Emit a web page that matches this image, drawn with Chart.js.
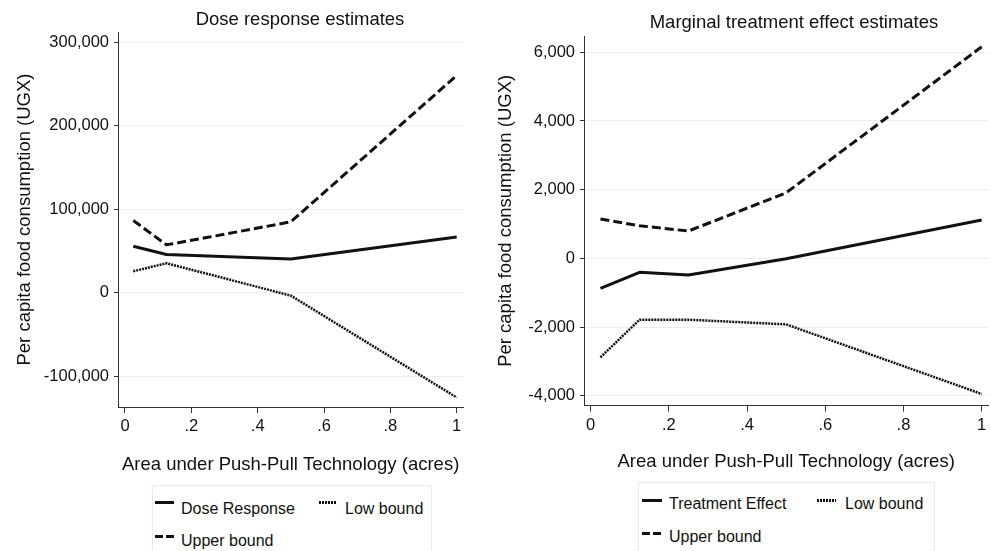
<!DOCTYPE html>
<html>
<head>
<meta charset="utf-8">
<script src="https://cdn.jsdelivr.net/npm/chart.js@4.4.0/dist/chart.umd.min.js"></script>
<style>
body { margin:0; width:991px; height:551px; overflow:hidden; background:#fff; font-family:"Liberation Sans", Arial, sans-serif; color:#111; position:relative; }
canvas { position:absolute; top:0; }
.title { position:absolute; font-size:18.5px; line-height:22px; text-align:center; white-space:nowrap; }
.legend { position:absolute; border:1px solid #e4ebed; height:120px; box-sizing:border-box; }
.item { position:absolute; font-size:16px; line-height:20px; white-space:nowrap; }
.swatch { position:absolute; height:3px; }
.solid { background:#111; }
.dash { background:repeating-linear-gradient(90deg, #111 0 8px, transparent 8px 11px); }
.dot { background:repeating-linear-gradient(90deg, #111 0 2px, transparent 2px 3px); }
</style>
</head>
<body>
<canvas id="doseChart" width="495" height="480" style="left:0"></canvas>
<canvas id="mteChart" width="496" height="480" style="left:495px"></canvas>

<div class="title" style="left:150px; top:8px; width:300px">Dose response estimates</div>
<div class="title" style="left:594px; top:11px; width:400px">Marginal treatment effect estimates</div>

<div class="legend" style="left:152px; top:485px; width:280px"></div>
<div class="swatch solid" style="left:155px; top:501px; width:19px"></div>
<div class="item" id="doseLeg0" style="left:181px; top:499px"></div>
<div class="swatch dot" style="left:319px; top:501px; width:18px"></div>
<div class="item" id="doseLeg1" style="left:345px; top:499px"></div>
<div class="swatch dash" style="left:155px; top:535px; width:19px"></div>
<div class="item" id="doseLeg2" style="left:181px; top:531px"></div>

<div class="legend" style="left:638px; top:482px; width:297px"></div>
<div class="swatch solid" style="left:642px; top:499px; width:20px"></div>
<div class="item" id="mteLeg0" style="left:669px; top:494px"></div>
<div class="swatch dot" style="left:817px; top:499px; width:19px"></div>
<div class="item" id="mteLeg1" style="left:845px; top:494px"></div>
<div class="swatch dash" style="left:642px; top:532px; width:20px"></div>
<div class="item" id="mteLeg2" style="left:669px; top:527px"></div>

<script>
// evaluation points (acres)
const acres = [0.025, 0.125, 0.25, 0.5, 1];

// dose response (UGX)
const doseResponse = [55800, 45900, 44200, 40700, 67000];
const doseLow = [25900, 35500, 22600, -3200, -125000];
const doseUpper = [86600, 57500, 66500, 85000, 260000];

// marginal treatment effect (UGX)
const treatEffect = [-873, -408, -486, -10, 1115];
const treatLow = [-2882, -1787, -1787, -1922, -3950];
const treatUpper = [1144, 950, 795, 1910, 6160];

const xTicks = [0, 0.2, 0.4, 0.6, 0.8, 1];
const doseYTicks = [-100000, 0, 100000, 200000, 300000];
const mteYTicks = [-4000, -2000, 0, 2000, 4000, 6000];

const doseLegend = ['Dose Response', 'Low bound', 'Upper bound'];
const mteLegend = ['Treatment Effect', 'Low bound', 'Upper bound'];

const xTitle = 'Area under Push-Pull Technology (acres)';
const yTitle = 'Per capita food consumption (UGX)';

doseLegend.forEach((t, i) => document.getElementById('doseLeg' + i).textContent = t);
mteLegend.forEach((t, i) => document.getElementById('mteLeg' + i).textContent = t);

Chart.defaults.font.family = '"Liberation Sans", Arial, sans-serif';
Chart.defaults.color = '#111';

const ink = '#111';
const axisGray = '#333';

function pts(ys) {
    return acres.map((x, i) => ({x: x, y: ys[i]}));
}

function makeChart(id, o) {
    return new Chart(document.getElementById(id), {
        type: 'line',
        data: {
            datasets: [
                {label: o.labels[0], data: pts(o.mid), borderColor: ink, borderWidth: 3},
                {label: o.labels[1], data: pts(o.low), borderColor: ink, borderWidth: 2.5, borderDash: [2, 1]},
                {label: o.labels[2], data: pts(o.up), borderColor: ink, borderWidth: 3, borderDash: [9, 4]}
            ]
        },
        options: {
            responsive: false,
            devicePixelRatio: 1,
            animation: false,
            elements: {point: {radius: 0}, line: {tension: 0, borderCapStyle: 'butt', borderJoinStyle: 'round'}},
            layout: {padding: o.pad},
            plugins: {legend: {display: false}, tooltip: {enabled: false}, title: {display: false}},
            scales: {
                x: {
                    type: 'linear',
                    min: o.xmin, max: o.xmax,
                    afterBuildTicks: s => { s.ticks = xTicks.map(v => ({value: v})); },
                    afterFit: s => { s.height = o.xh; },
                    ticks: {
                        font: {size: 16.5}, color: ink, padding: 4, maxRotation: 0,
                        callback: v => v === 0 ? '0' : v === 1 ? '1' : String(v).replace(/^0/, '')
                    },
                    grid: {drawOnChartArea: false, tickLength: 6, tickColor: axisGray},
                    border: {color: axisGray, width: 1},
                    title: {display: true, text: xTitle, font: {size: 18.5}, color: ink, padding: {top: 0, bottom: o.xtb}}
                },
                y: {
                    min: o.ymin, max: o.ymax,
                    afterBuildTicks: s => { s.ticks = o.yticks.map(v => ({value: v})); },
                    afterFit: s => { s.width = o.yw; },
                    ticks: {font: {size: 16.5}, color: ink, padding: 5, callback: v => v.toLocaleString('en-US')},
                    grid: {color: '#e6eff1', tickLength: 4, tickColor: axisGray},
                    border: {color: axisGray, width: 1},
                    title: {display: true, text: yTitle, font: {size: 18.5}, color: ink, padding: {top: o.ytt, bottom: 0}}
                }
            }
        }
    });
}

makeChart('doseChart', {
    labels: doseLegend, mid: doseResponse, low: doseLow, up: doseUpper,
    xmin: -0.0211, xmax: 1.0199, ymin: -136370, ymax: 311965,
    yticks: doseYTicks, pad: {top: 32, right: 31.7, bottom: 0, left: 0},
    xh: 73, yw: 118, xtb: 4, ytt: 14
});

makeChart('mteChart', {
    labels: mteLegend, mid: treatEffect, low: treatLow, up: treatUpper,
    xmin: -0.0171, xmax: 1.0169, ymin: -4291, ymax: 6475,
    yticks: mteYTicks, pad: {top: 36, right: 2.7, bottom: 0, left: 0},
    xh: 74.3, yw: 89, xtb: 7, ytt: 0
});
</script>
</body>
</html>
